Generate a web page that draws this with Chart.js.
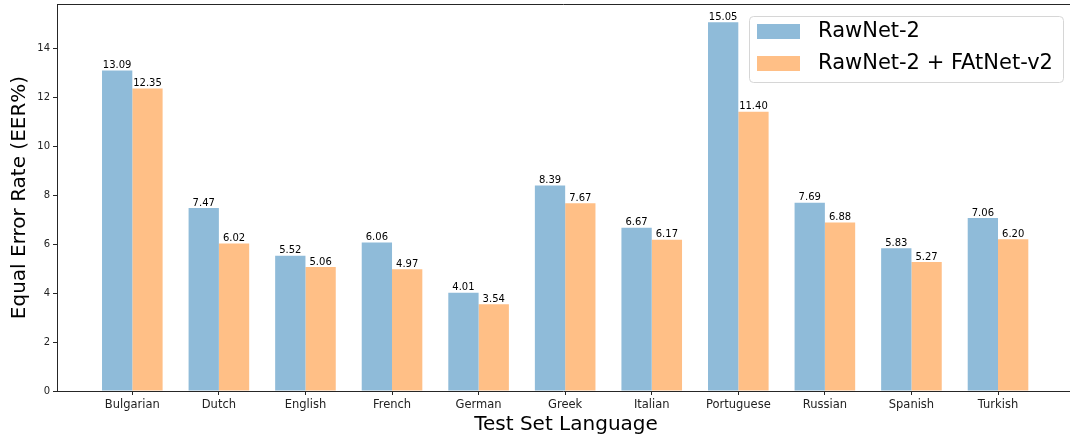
<!DOCTYPE html>
<html>
<head>
<meta charset="utf-8">
<script src="https://cdn.jsdelivr.net/npm/chart.js@4.4.0/dist/chart.umd.min.js"></script>
<style>
  html, body { margin: 0; padding: 0; background: #fff; overflow: hidden; }
  canvas { display: block; }
</style>
</head>
<body>
<canvas id="c" width="1070" height="438"></canvas>
<script>
// Test-set languages and the EER (%) of each system
const categories = ['Bulgarian', 'Dutch', 'English', 'French', 'German', 'Greek',
                    'Italian', 'Portuguese', 'Russian', 'Spanish', 'Turkish'];
const rawnet2 = [13.09, 7.47, 5.52, 6.06, 4.01, 8.39, 6.67, 15.05, 7.69, 5.83, 7.06];
const rawnet2Fatnet = [12.35, 6.02, 5.06, 4.97, 3.54, 7.67, 6.17, 11.40, 6.88, 5.27, 6.20];
const seriesNames = ['RawNet-2', 'RawNet-2 + FAtNet-v2'];
const yTicks = [0, 2, 4, 6, 8, 10, 12, 14];

const FONT = "'DejaVu Sans', sans-serif";
const BLUE = 'rgb(143,187,217)';
const ORANGE = 'rgb(255,191,134)';
const AXIS = '#262626';

const toPoints = (vals) => vals.map((v, i) => ({ x: i, y: v }));

// Value labels, axis titles, top frame line and the legend box
const decorations = {
  id: 'decorations',
  afterDatasetsDraw(chart) {
    const ctx = chart.ctx;
    const area = chart.chartArea;
    ctx.save();

    // value above each bar
    ctx.fillStyle = '#000';
    ctx.font = '10px ' + FONT;
    ctx.textAlign = 'center';
    ctx.textBaseline = 'bottom';
    chart.data.datasets.forEach((ds, di) => {
      chart.getDatasetMeta(di).data.forEach((el, i) => {
        ctx.fillText(ds.data[i].y.toFixed(2), el.x, el.y);
      });
    });

    // top frame line
    ctx.strokeStyle = AXIS;
    ctx.lineWidth = 1;
    ctx.beginPath();
    ctx.moveTo(area.left, area.top + 0.5);
    ctx.lineTo(chart.width, area.top + 0.5);
    ctx.stroke();

    // axis titles
    ctx.fillStyle = '#000';
    ctx.font = '20px ' + FONT;
    ctx.textAlign = 'center';
    ctx.textBaseline = 'middle';
    ctx.fillText('Test Set Language', 566, 425);
    ctx.save();
    ctx.translate(20, (area.top + area.bottom) / 2);
    ctx.rotate(-Math.PI / 2);
    ctx.fillText('Equal Error Rate (EER%)', 0, 0);
    ctx.restore();

    // legend
    const lx = 749.5, ly = 16.5, lw = 314, lh = 66, r = 4;
    ctx.beginPath();
    ctx.moveTo(lx + r, ly);
    ctx.arcTo(lx + lw, ly, lx + lw, ly + lh, r);
    ctx.arcTo(lx + lw, ly + lh, lx, ly + lh, r);
    ctx.arcTo(lx, ly + lh, lx, ly, r);
    ctx.arcTo(lx, ly, lx + lw, ly, r);
    ctx.closePath();
    ctx.fillStyle = 'rgba(255,255,255,0.8)';
    ctx.fill();
    ctx.strokeStyle = '#d6d6d6';
    ctx.stroke();

    const colors = [BLUE, ORANGE];
    ctx.font = '21px ' + FONT;
    seriesNames.forEach((name, k) => {
      const y = 24 + k * 32;
      ctx.fillStyle = colors[k];
      ctx.fillRect(757, y, 43, 15);
      ctx.fillStyle = '#000';
      ctx.textAlign = 'left';
      ctx.textBaseline = 'middle';
      ctx.fillText(name, 818, y + 8);
    });

    ctx.restore();
  }
};

new Chart(document.getElementById('c'), {
  type: 'bar',
  data: {
    datasets: [
      { label: seriesNames[0], data: toPoints(rawnet2), backgroundColor: BLUE, borderWidth: 0 },
      { label: seriesNames[1], data: toPoints(rawnet2Fatnet), backgroundColor: ORANGE, borderWidth: 0 }
    ]
  },
  options: {
    responsive: false,
    devicePixelRatio: 1,
    animation: false,
    categoryPercentage: 0.7,
    barPercentage: 1.0,
    layout: { padding: { top: 4, right: 1, left: 0, bottom: 0 } },
    plugins: { legend: { display: false }, tooltip: { enabled: false } },
    scales: {
      x: {
        type: 'linear',
        min: -0.87,
        max: 10.82,
        offset: false,
        afterBuildTicks: (s) => { s.ticks = categories.map((c, i) => ({ value: i })); },
        afterFit: (s) => { s.height = 47; s.paddingLeft = 0; s.paddingRight = 0; },
        ticks: {
          autoSkip: false,
          maxRotation: 0,
          padding: 3,
          color: '#222',
          font: { family: FONT, size: 11.5 },
          callback: (v) => categories[v]
        },
        grid: { display: true, offset: false, drawOnChartArea: false, drawTicks: true, tickLength: 4, color: AXIS },
        border: { display: true, color: AXIS, width: 1 }
      },
      y: {
        min: 0,
        max: 15.8,
        afterBuildTicks: (s) => { s.ticks = yTicks.map(v => ({ value: v })); },
        afterFit: (s) => { s.width = 57; s.paddingTop = 0; s.paddingBottom = 0; },
        ticks: {
          padding: 3,
          color: '#222',
          font: { family: FONT, size: 10 },
          callback: (v) => String(v)
        },
        grid: { display: true, drawOnChartArea: false, drawTicks: true, tickLength: 4, color: AXIS },
        border: { display: true, color: AXIS, width: 1 }
      }
    }
  },
  plugins: [decorations]
});
</script>
</body>
</html>
